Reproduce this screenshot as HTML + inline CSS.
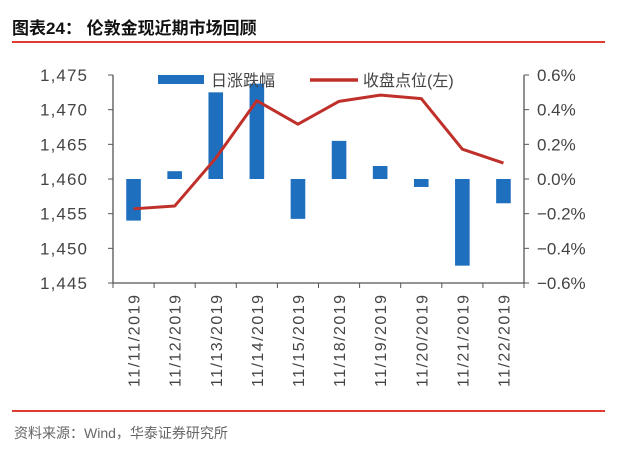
<!DOCTYPE html>
<html><head><meta charset="utf-8"><style>
html,body{margin:0;padding:0;background:#fff;}
body{width:617px;height:456px;overflow:hidden;position:relative;font-family:"Liberation Sans","Noto Sans CJK SC",sans-serif;}
</style></head><body>
<svg width="617" height="456" xmlns="http://www.w3.org/2000/svg">
<text x="12" y="34" font-size="17" font-weight="bold" fill="#111" font-family="'Liberation Sans','Noto Sans CJK SC',sans-serif">图表24：  伦敦金现近期市场回顾</text>
<rect x="12" y="41" width="593" height="2" fill="#e03c31"/>
<g id="plot"></g>
<rect x="12" y="410" width="593" height="2" fill="#e03c31"/>
<text x="14" y="438" font-size="14" fill="#666" font-family="'Liberation Sans','Noto Sans CJK SC',sans-serif">资料来源：Wind，华泰证券研究所</text>
</svg>
<script>
const categories=["11/11/2019","11/12/2019","11/13/2019","11/14/2019","11/15/2019","11/18/2019","11/19/2019","11/20/2019","11/21/2019","11/22/2019"];
const closeValues=[1455.7,1456.1,1463.0,1471.3,1467.9,1471.2,1472.1,1471.6,1464.3,1462.3];
const dailyChange=[-0.24,0.045,0.50,0.55,-0.23,0.22,0.075,-0.046,-0.50,-0.14];
const leftTicks=[1445,1450,1455,1460,1465,1470,1475];
const leftTickLabels=["1,445","1,450","1,455","1,460","1,465","1,470","1,475"];
const rightTicks=[-0.6,-0.4,-0.2,0,0.2,0.4,0.6];
const rightTickLabels=["-0.6%","-0.4%","-0.2%","0.0%","0.2%","0.4%","0.6%"];

const NS="http://www.w3.org/2000/svg";
const g=document.getElementById('plot');
const X0=113,X1=524,YT=75,YB=283;
const bw=(X1-X0)/categories.length;
const yL=v=>YB-(v-1445)/30*(YB-YT);
const yR=v=>YB-(v+0.6)/1.2*(YB-YT);
const xC=i=>X0+bw*(i+0.5);
function mk(tag,attrs){const e=document.createElementNS(NS,tag);for(const k in attrs)e.setAttribute(k,attrs[k]);g.appendChild(e);return e;}
const F="'Liberation Sans','Noto Sans CJK SC',sans-serif";
// bars
dailyChange.forEach((v,i)=>{
 const y0=yR(0),y1=yR(v);
 const r=mk('rect',{x:xC(i)-7.3,y:Math.min(y0,y1),width:14.6,height:Math.abs(y1-y0),fill:'#1f6fbf'});
 
 
});
// axes
const ax=mk('path',{d:`M${X0} ${YT}V${YB}H${X1}V${YT}`,stroke:'#555',fill:'none','stroke-width':1.3});


leftTicks.forEach((v,i)=>{
 mk('line',{x1:X0-5,x2:X0,y1:yL(v),y2:yL(v),stroke:'#555'});
 const t=mk('text',{x:87,y:yL(v)+6,'text-anchor':'end','font-size':17,fill:'#444','font-family':F,textLength:47});
 t.textContent=leftTickLabels[i];
 
 
});
rightTicks.forEach((v,i)=>{
 mk('line',{x1:X1,x2:X1+5,y1:yR(v),y2:yR(v),stroke:'#555'});
 const t=mk('text',{x:537,y:yR(v)+6,'font-size':17,fill:'#444','font-family':F});
 t.textContent=rightTickLabels[i].replace('-','−');
 
 
});
categories.forEach((c,i)=>{
 const x=X0+bw*i;
 mk('line',{x1:x,x2:x,y1:YB,y2:YB+5,stroke:'#555'});
 const t=mk('text',{x:0,y:0,'font-size':16,fill:'#444','font-family':F,'text-anchor':'end',textLength:92,transform:`translate(${xC(i)+6},${YB+12}) rotate(-90)`});
 t.textContent=c;
 
 
});
mk('line',{x1:X1,x2:X1,y1:YB,y2:YB+5,stroke:'#555'});
// line
const ln=mk('polyline',{points:closeValues.map((v,i)=>xC(i)+','+yL(v)).join(' '),fill:'none',stroke:'#c0302a','stroke-width':3,'stroke-linejoin':'round'});


// legend
const lb=mk('rect',{x:158,y:75,width:46,height:9,fill:'#1f6fbf'});


const lt1=mk('text',{x:211,y:86,'font-size':16,fill:'#444','font-family':F});
lt1.textContent='日涨跌幅';


const ll=mk('line',{x1:310,x2:358,y1:80,y2:80,stroke:'#c0302a','stroke-width':3.5});


const lt2=mk('text',{x:363,y:86,'font-size':16,fill:'#444','font-family':F});
lt2.textContent='收盘点位(左)';


</script>
</body></html>
